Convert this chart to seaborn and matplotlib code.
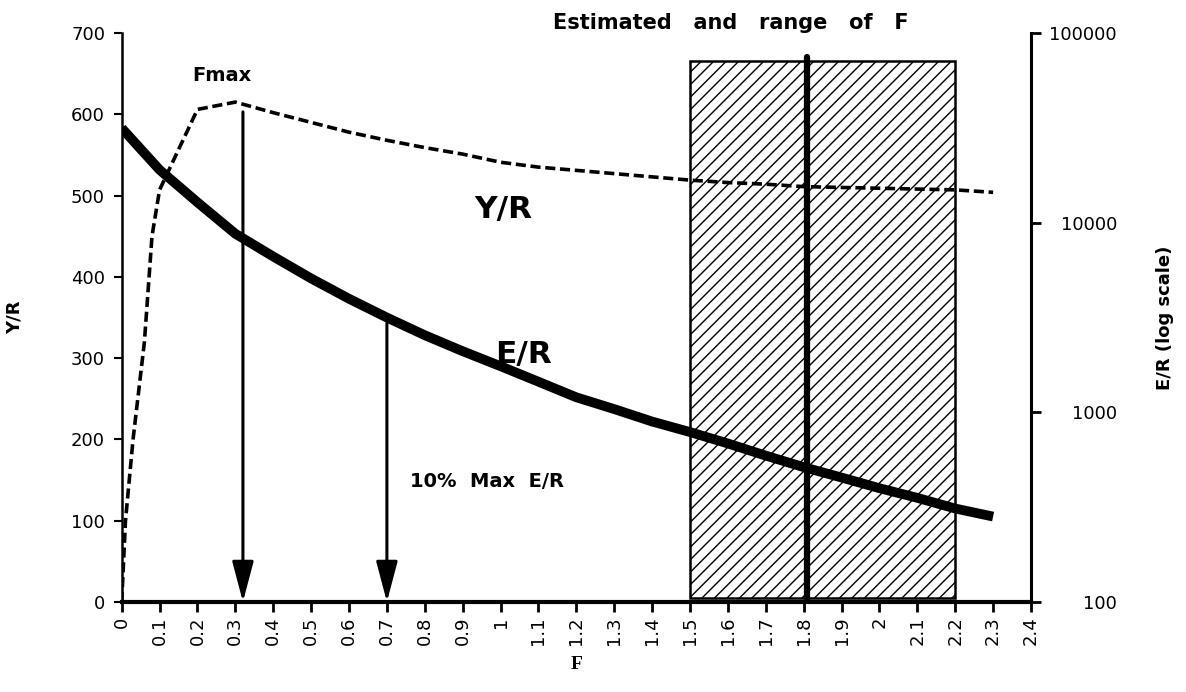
"""
Yield per recruit and egg per recruit vs fishing mortality F
"""

import numpy as np
import pandas as pd
import matplotlib
matplotlib.use('Agg')
import matplotlib.pyplot as plt
import matplotlib.ticker as mticker
from matplotlib.backend_bases import GraphicsContextBase
import seaborn as sns

# ── Data ──────────────────────────────────────────────────────
yr_f = [0, 0.01, 0.03, 0.06, 0.08, 0.1, 0.2, 0.3, 0.4, 0.5, 0.6, 0.7, 0.8,
        0.9, 1.0, 1.1, 1.2, 1.3, 1.4, 1.5, 1.6, 1.7, 1.8, 1.9, 2.0, 2.1,
        2.2, 2.3]
yr_vals = [0, 100, 200, 320, 450, 507, 606, 615, 602, 590, 578, 568, 559,
           551, 541, 535, 531, 527, 523, 519, 516, 514, 511, 510, 509, 508,
           507, 504]

er_f = [0, 0.1, 0.2, 0.3, 0.4, 0.5, 0.6, 0.7, 0.8, 0.9, 1.0, 1.1, 1.2,
        1.3, 1.4, 1.5, 1.6, 1.7, 1.8, 1.9, 2.0, 2.1, 2.2, 2.3]
er_vals = [31500, 19000, 12800, 8740, 6630, 5080, 3970, 3160, 2550, 2100,
           1750, 1450, 1200, 1040, 894, 787, 685, 591, 514, 453, 398, 354,
           311, 282]

f_range = (1.5, 2.2)      # range of F
f_est = 1.81              # estimated F
f_max = 0.32              # Fmax
f_01 = 0.70               # 10% max E/R

x_ticks = [round(0.1 * i, 1) for i in range(25)]
x_labels = ['0', '0.1', '0.2', '0.3', '0.4', '0.5', '0.6', '0.7', '0.8',
            '0.9', '1', '1.1', '1.2', '1.3', '1.4', '1.5', '1.6', '1.7',
            '1.8', '1.9', '2', '2.1', '2.2', '2.3', '2.4']
er_ticks = [100, 1000, 10000, 100000]
er_labels = ['100', '1000', '10000', '100000']

df_yr = pd.DataFrame({'F': yr_f, 'YR': yr_vals})
df_er = pd.DataFrame({'F': er_f, 'ER': er_vals})

# ── Style ─────────────────────────────────────────────────────
sns.set_style('ticks')
plt.rcParams['font.family'] = ['DejaVu Sans']
plt.rcParams['hatch.linewidth'] = 1.0
for key in ['text.color', 'axes.labelcolor', 'xtick.color', 'ytick.color',
            'axes.edgecolor']:
    plt.rcParams[key] = 'black'

# hatch spacing between matplotlib's '//' and '///' (even count tiles cleanly)
_orig_hatch = GraphicsContextBase.get_hatch_path
GraphicsContextBase.get_hatch_path = lambda self, density=16.0: _orig_hatch(self, density)

BOLD = dict(family=['DejaVu Sans'], fontweight='bold', color='black')

fig = plt.figure(figsize=(11.86, 6.92), dpi=100)
ax = fig.add_axes([0.1026, 0.1301, 0.7667, 0.8222])
ax2 = ax.twinx()

# Y/R dashed curve (left axis)
sns.lineplot(data=df_yr, x='F', y='YR', ax=ax, color='black',
             linewidth=2.6, linestyle=(0, (2.8, 1.3)), sort=False)

# E/R thick curve (right axis, log)
sns.lineplot(data=df_er, x='F', y='ER', ax=ax2, color='black',
             linewidth=7, sort=False, solid_capstyle='butt')
ax2.set_yscale('log')

# Hatched range of F
rect = plt.Rectangle((f_range[0], 5), f_range[1] - f_range[0], 660,
                     fill=False, hatch='/', edgecolor='black', lw=1.8,
                     zorder=1)
ax.add_patch(rect)
ax.plot([f_est, f_est], [0, 670], color='black', lw=4.5, zorder=3)

# Arrows
arrow_kw = dict(arrowstyle='-|>,head_length=1.25,head_width=0.33',
                color='black', lw=2.2, mutation_scale=20,
                shrinkA=0, shrinkB=0)
ax.annotate('', xy=(f_max, 0), xytext=(f_max, 603), arrowprops=arrow_kw)
ax.annotate('', xy=(f_01, 0), xytext=(f_01, 343), arrowprops=arrow_kw)

# Texts
ax.text(0.185, 641, 'Fmax', fontsize=14, **BOLD)
ax.text(0.76, 141, '10%  Max  E/R', fontsize=14, **BOLD)
ax.text(0.932, 472, 'Y/R', fontsize=22.5, **BOLD)
ax.text(0.985, 294, 'E/R', fontsize=22.5, **BOLD)
fig.text(0.4663, 0.981, 'Estimated   and   range   of   F', fontsize=15,
         ha='left', va='top', **BOLD)

# Axes formatting
ax.set_xlim(0, 2.4)
ax.set_ylim(0, 700)
ax2.set_ylim(100, 100000)
ax.set_xticks(x_ticks)
ax.set_xticklabels(x_labels, rotation=90, fontsize=13)
ax.set_yticks(range(0, 701, 100))
ax.tick_params(axis='y', labelsize=13, width=1.5, length=6, pad=6)
ax.tick_params(axis='x', width=2, length=7)
ax2.yaxis.set_major_locator(mticker.FixedLocator(er_ticks))
ax2.yaxis.set_minor_locator(mticker.NullLocator())
ax2.set_yticklabels(er_labels)
ax2.tick_params(axis='y', labelsize=13, width=2, length=7, pad=55)
for lbl in ax2.get_yticklabels():
    lbl.set_horizontalalignment('right')

ax.set_xlabel('F', family=['Liberation Serif', 'DejaVu Serif'],
              fontsize=14, fontweight='bold', labelpad=8)
ax.set_ylabel('Y/R', fontsize=13, labelpad=34, **BOLD)
ax2.set_ylabel('E/R (log scale)', fontsize=13, labelpad=28, **BOLD)

for a in (ax, ax2):
    a.spines['top'].set_visible(False)
    a.grid(False)
ax.spines['left'].set_linewidth(1.8)
ax.spines['bottom'].set_linewidth(3)
ax2.spines['right'].set_linewidth(2.2)
ax2.spines['left'].set_visible(False)
ax2.spines['bottom'].set_visible(False)

fig.savefig('out.png', dpi=100)
plt.close(fig)
